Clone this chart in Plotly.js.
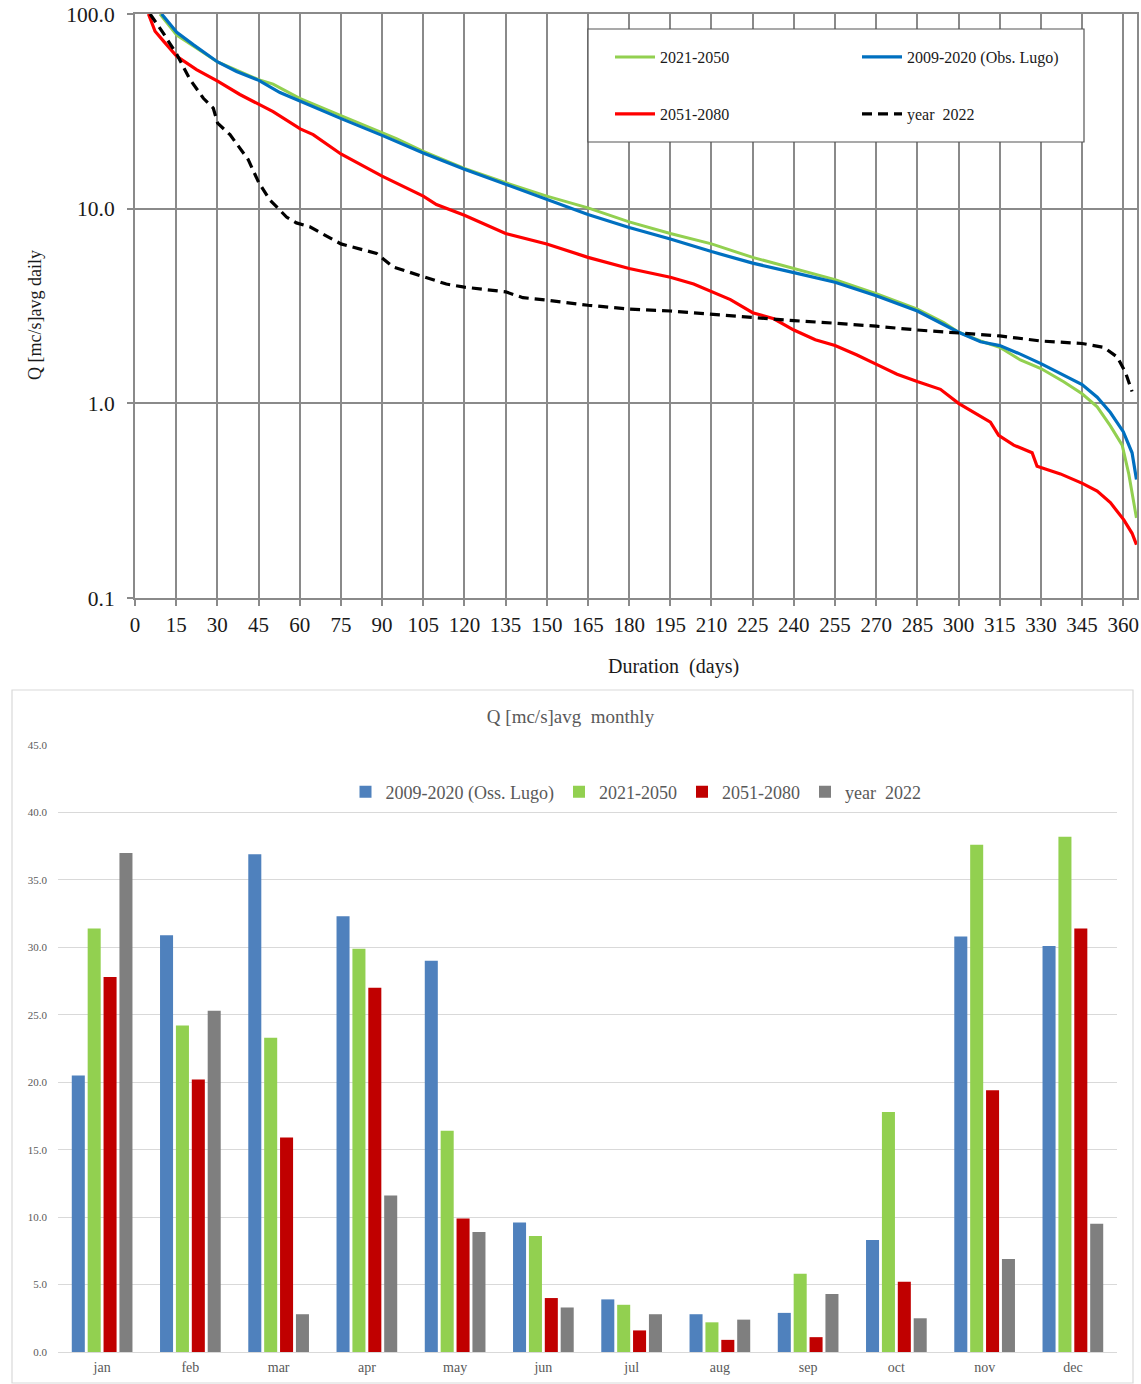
<!DOCTYPE html>
<html><head><meta charset="utf-8">
<script src="https://cdn.plot.ly/plotly-3.0.1.min.js"></script>
<style>html,body{margin:0;padding:0;background:#fff}#chart{width:1141px;height:1384px}</style>
</head><body><div id="chart"></div>
<script>
// ---------- Duration curves (top chart) ----------
const obsDays = [9.7, 15.2, 21.2, 30.1, 37, 45.1, 52.8, 60.2, 75.1, 90, 105, 120, 135, 150, 165, 180, 195, 210, 225, 240, 255, 270, 285, 300, 308, 315, 322.5, 330, 338.3, 345, 350.5, 355.3, 360, 363.2, 364.8];
const obsQ    = [100, 80.5, 69.6, 56.7, 50.7, 45.6, 39.5, 35.6, 29.0, 23.8, 19.3, 15.95, 13.3, 11.2, 9.34, 8.0, 6.99, 6.02, 5.25, 4.69, 4.19, 3.57, 2.98, 2.32, 2.07, 1.98, 1.79, 1.60, 1.39, 1.25, 1.075, 0.897, 0.715, 0.557, 0.406];

const nearDays = [9.1, 15.2, 30.1, 45, 50.3, 60, 75, 90, 95.2, 105, 120, 135, 150, 165, 180, 195, 210, 225, 240, 255, 270, 285, 294.6, 300, 308, 315, 322.5, 330, 338.3, 345, 350.5, 355.3, 359.6, 362, 364.8];
const nearQ    = [100, 78, 56.7, 46.0, 43.6, 36.9, 30.1, 24.6, 22.9, 19.7, 16.1, 13.6, 11.6, 10.1, 8.55, 7.45, 6.59, 5.62, 4.91, 4.32, 3.66, 3.05, 2.60, 2.32, 2.09, 1.94, 1.67, 1.51, 1.29, 1.12, 0.96, 0.766, 0.61, 0.434, 0.258];

const farDays = [4.9, 7.3, 10.3, 15.2, 22.4, 30.1, 38.2, 45.1, 50.3, 60.2, 64.9, 75, 90, 105, 109.8, 120, 135, 150, 165, 180, 195, 203.5, 210, 216.9, 225, 232.7, 240, 247.8, 255, 263, 270.3, 277.6, 285.2, 293.4, 300, 306.7, 311.6, 314.6, 320.1, 326.8, 328.6, 337.1, 345.1, 350.5, 355.3, 360.2, 363.2, 364.8];
const farQ    = [100, 81.5, 72.8, 60.7, 51.8, 45.2, 38.6, 34.2, 31.5, 25.7, 24.0, 19.1, 14.7, 11.6, 10.5, 9.26, 7.45, 6.59, 5.62, 4.93, 4.44, 4.10, 3.74, 3.41, 2.92, 2.72, 2.38, 2.12, 1.98, 1.77, 1.58, 1.41, 1.29, 1.18, 1.00, 0.877, 0.80, 0.684, 0.61, 0.557, 0.475, 0.434, 0.388, 0.354, 0.309, 0.252, 0.215, 0.188];

const y2022Days = [5.5, 10.3, 15.2, 20, 24.9, 28.5, 30.1, 34.6, 41.2, 45.1, 49.1, 55.2, 58.8, 63.7, 75, 88, 94, 105, 113.4, 120, 135, 141.3, 150, 165, 180, 195, 210, 225, 240, 255, 270, 285, 300, 315, 330, 345, 352.9, 357.8, 360.8, 363.2];
const y2022Q    = [100, 79.7, 62.1, 46.2, 36.9, 32.9, 27.5, 24.0, 17.9, 13.6, 11.1, 9.06, 8.45, 8.07, 6.59, 5.89, 5.02, 4.49, 4.10, 3.95, 3.74, 3.49, 3.39, 3.19, 3.05, 2.98, 2.87, 2.75, 2.66, 2.58, 2.49, 2.38, 2.29, 2.22, 2.09, 2.03, 1.94, 1.73, 1.44, 1.15];

const xTickVals = [0,15,30,45,60,75,90,105,120,135,150,165,180,195,210,225,240,255,270,285,300,315,330,345,360];
const yTickVals = [0.1, 1, 10, 100];
const yTickText = ['0.1', '1.0', '10.0', '100.0'];

// ---------- Monthly means (bottom chart) ----------
const months = ['jan','feb','mar','apr','may','jun','jul','aug','sep','oct','nov','dec'];
const obsMonthly  = [20.5, 30.9, 36.9, 32.3, 29.0, 9.6, 3.9, 2.8, 2.9, 8.3, 30.8, 30.1];
const nearMonthly = [31.4, 24.2, 23.3, 29.9, 16.4, 8.6, 3.5, 2.2, 5.8, 17.8, 37.6, 38.2];
const farMonthly  = [27.8, 20.2, 15.9, 27.0, 9.9, 4.0, 1.6, 0.9, 1.1, 5.2, 19.4, 31.4];
const y2022Monthly = [37.0, 25.3, 2.8, 11.6, 8.9, 3.3, 2.8, 2.4, 4.3, 2.5, 6.9, 9.5];

const W = 1141, H = 1384;
const px = v => v / W;
const py = v => 1 - v / H;
const SERIF = 'Liberation Serif, Times New Roman, serif';
const GRID = '#8a8a8a';

const traces = [
  {x: nearDays, y: nearQ, name: '2021-2050', type: 'scatter', mode: 'lines',
   line: {color: '#92d050', width: 3}, xaxis: 'x', yaxis: 'y', legend: 'legend'},
  {x: obsDays, y: obsQ, name: '2009-2020 (Obs. Lugo)', type: 'scatter', mode: 'lines',
   line: {color: '#0070c0', width: 3.2}, xaxis: 'x', yaxis: 'y', legend: 'legend'},
  {x: farDays, y: farQ, name: '2051-2080', type: 'scatter', mode: 'lines',
   line: {color: '#ff0000', width: 3.2}, xaxis: 'x', yaxis: 'y', legend: 'legend2'},
  {x: y2022Days, y: y2022Q, name: 'year\u00a0 2022', type: 'scatter', mode: 'lines',
   line: {color: '#000000', width: 3.2, dash: '10px,6px'}, xaxis: 'x', yaxis: 'y', legend: 'legend2'},

  {x: months, y: obsMonthly, name: '2009-2020 (Oss. Lugo)', type: 'bar',
   marker: {color: '#4f81bd'}, xaxis: 'x2', yaxis: 'y2', legend: 'legend3'},
  {x: months, y: nearMonthly, name: '2021-2050', type: 'bar',
   marker: {color: '#92d050'}, xaxis: 'x2', yaxis: 'y2', legend: 'legend3'},
  {x: months, y: farMonthly, name: '2051-2080', type: 'bar',
   marker: {color: '#c00000'}, xaxis: 'x2', yaxis: 'y2', legend: 'legend3'},
  {x: months, y: y2022Monthly, name: 'year\u00a0 2022', type: 'bar',
   marker: {color: '#7f7f7f'}, xaxis: 'x2', yaxis: 'y2', legend: 'legend3'}
];

const layout = {
  width: W, height: H,
  margin: {l: 0, r: 0, t: 0, b: 0},
  paper_bgcolor: '#ffffff', plot_bgcolor: '#ffffff',
  font: {family: SERIF, color: '#1a1a1a'},
  showlegend: true,
  hovermode: false,
  title: {text: 'Q [mc/s]avg\u00a0 monthly', x: 0.5, xanchor: 'center', xref: 'paper',
          y: py(716), yanchor: 'middle', yref: 'paper',
          font: {family: SERIF, size: 19, color: '#595959'}},
  xaxis: {domain: [px(135), px(1137)], anchor: 'y', range: [0, 365],
          tickmode: 'array', tickvals: xTickVals,
          showgrid: true, gridcolor: GRID, gridwidth: 2,
          showline: true, linecolor: GRID, linewidth: 2, mirror: true,
          ticks: 'outside', ticklen: 6, tickcolor: GRID, tickwidth: 2,
          ticklabelstandoff: 1,
          zeroline: false, tickfont: {family: SERIF, size: 21, color: '#1a1a1a'}},
  yaxis: {domain: [py(598), py(14)], anchor: 'x', type: 'log', range: [-1, 2],
          tickmode: 'array', tickvals: yTickVals, ticktext: yTickText,
          showgrid: true, gridcolor: GRID, gridwidth: 2,
          showline: true, linecolor: GRID, linewidth: 2, mirror: true,
          ticks: 'outside', ticklen: 6, tickcolor: GRID, tickwidth: 2,
          ticklabelstandoff: 8,
          zeroline: false, tickfont: {family: SERIF, size: 21.5, color: '#1a1a1a'}},
  xaxis2: {domain: [px(58), px(1117)], anchor: 'y2', type: 'category',
           showgrid: false, showline: true, linecolor: '#d9d9d9', linewidth: 1,
           ticks: '', ticklabelstandoff: 2,
           tickfont: {family: SERIF, size: 14, color: '#595959'}},
  yaxis2: {domain: [py(1352), py(745)], anchor: 'x2', range: [0, 45], dtick: 5, tick0: 0,
           tickformat: '.1f', showgrid: true, gridcolor: '#d9d9d9', gridwidth: 1,
           zeroline: false, showline: false, ticks: '', ticklabelstandoff: 10,
           tickfont: {family: SERIF, size: 11, color: '#595959'}},
  barmode: 'group', bargap: 0.28, bargroupgap: 0.18,
  legend: {orientation: 'h', x: px(610), xanchor: 'left', y: py(57), yanchor: 'middle',
           itemwidth: 40, entrywidth: 192, bgcolor: 'rgba(0,0,0,0)', borderwidth: 0, traceorder: 'normal',
           font: {family: SERIF, size: 16, color: '#1a1a1a'}},
  legend2: {orientation: 'h', x: px(610), xanchor: 'left', y: py(114), yanchor: 'middle',
            itemwidth: 40, entrywidth: 192, bgcolor: 'rgba(0,0,0,0)', borderwidth: 0, traceorder: 'normal',
            font: {family: SERIF, size: 16, color: '#1a1a1a'}},
  legend3: {orientation: 'h', x: px(636), xanchor: 'center', y: py(792), yanchor: 'middle',
            bgcolor: 'rgba(0,0,0,0)', borderwidth: 0, traceorder: 'normal',
            font: {family: SERIF, size: 18, color: '#595959'}},
  shapes: [
    {type: 'rect', xref: 'paper', yref: 'paper', x0: px(588), x1: px(1084), y0: py(142), y1: py(29),
     fillcolor: '#ffffff', line: {color: '#555555', width: 1.2}, layer: 'above'},
    {type: 'rect', xref: 'paper', yref: 'paper', x0: px(12), x1: px(1133), y0: py(1383), y1: py(690),
     fillcolor: 'rgba(0,0,0,0)', line: {color: '#d9d9d9', width: 1.2}, layer: 'below'}
  ],
  annotations: [
    {text: 'Duration\u00a0 (days)', xref: 'paper', yref: 'paper', x: px(673), y: py(666),
     xanchor: 'center', yanchor: 'middle', showarrow: false,
     font: {family: SERIF, size: 20, color: '#1a1a1a'}},
    {text: 'Q [mc/s]avg daily', xref: 'paper', yref: 'paper', x: px(35), y: py(315),
     xanchor: 'center', yanchor: 'middle', showarrow: false, textangle: -90,
     font: {family: SERIF, size: 18, color: '#1a1a1a'}}
  ]
};

Plotly.newPlot('chart', traces, layout, {displayModeBar: false, staticPlot: true});
</script></body></html>
